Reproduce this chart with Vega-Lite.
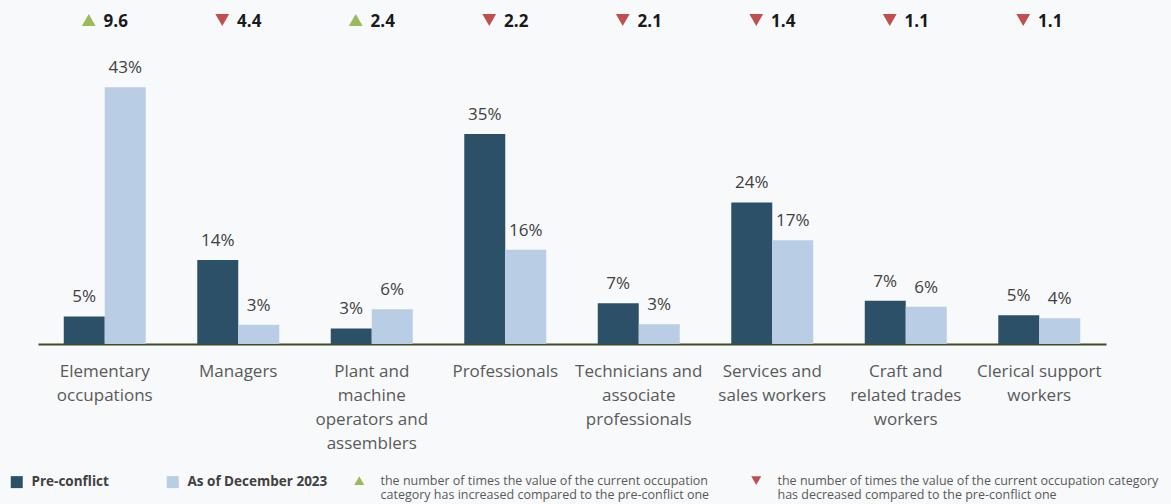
{
  "$schema": "https://vega.github.io/schema/vega-lite/v6.json",
  "width": 1068,
  "height": 344,
  "autosize": {"type": "none"},
  "padding": {"left": 38, "top": 0, "right": 65, "bottom": 160},
  "background": "#f8f9fb",
  "config": {"view": {"stroke": null}, "font": "Open Sans"},
  "datasets": {
    "shares": [
      {"occupation": "Elementary occupations", "series": "Pre-conflict", "share": 0.046},
      {"occupation": "Elementary occupations", "series": "As of December 2023", "share": 0.428},
      {"occupation": "Managers", "series": "Pre-conflict", "share": 0.140},
      {"occupation": "Managers", "series": "As of December 2023", "share": 0.032},
      {"occupation": "Plant and machine operators and assemblers", "series": "Pre-conflict", "share": 0.026},
      {"occupation": "Plant and machine operators and assemblers", "series": "As of December 2023", "share": 0.058},
      {"occupation": "Professionals", "series": "Pre-conflict", "share": 0.350},
      {"occupation": "Professionals", "series": "As of December 2023", "share": 0.157},
      {"occupation": "Technicians and associate professionals", "series": "Pre-conflict", "share": 0.068},
      {"occupation": "Technicians and associate professionals", "series": "As of December 2023", "share": 0.033},
      {"occupation": "Services and sales workers", "series": "Pre-conflict", "share": 0.236},
      {"occupation": "Services and sales workers", "series": "As of December 2023", "share": 0.173},
      {"occupation": "Craft and related trades workers", "series": "Pre-conflict", "share": 0.072},
      {"occupation": "Craft and related trades workers", "series": "As of December 2023", "share": 0.062},
      {"occupation": "Clerical support workers", "series": "Pre-conflict", "share": 0.048},
      {"occupation": "Clerical support workers", "series": "As of December 2023", "share": 0.043}
    ],
    "change": [
      {"occupation": "Elementary occupations", "direction": "increase", "ratio": "9.6"},
      {"occupation": "Managers", "direction": "decrease", "ratio": "4.4"},
      {"occupation": "Plant and machine operators and assemblers", "direction": "increase", "ratio": "2.4"},
      {"occupation": "Professionals", "direction": "decrease", "ratio": "2.2"},
      {"occupation": "Technicians and associate professionals", "direction": "decrease", "ratio": "2.1"},
      {"occupation": "Services and sales workers", "direction": "decrease", "ratio": "1.4"},
      {"occupation": "Craft and related trades workers", "direction": "decrease", "ratio": "1.1"},
      {"occupation": "Clerical support workers", "direction": "decrease", "ratio": "1.1"}
    ]
  },
  "layer": [
    {
      "data": {"name": "shares"},
      "mark": {"type": "bar"},
      "encoding": {
        "x": {
          "field": "occupation",
          "type": "nominal",
          "scale": {
            "domain": ["Elementary occupations", "Managers", "Plant and machine operators and assemblers", "Professionals", "Technicians and associate professionals", "Services and sales workers", "Craft and related trades workers", "Clerical support workers"],
            "paddingInner": 0.386,
            "paddingOuter": 0.193
          },
          "axis": {
            "title": null,
            "labelAngle": 0,
            "ticks": false,
            "domainColor": "#3d4b22",
            "domainWidth": 2,
            "labelFont": "Open Sans",
            "labelFontSize": 17,
            "labelColor": "#595959",
            "labelLineHeight": 24,
            "labelPadding": 19,
            "labelLimit": 200,
            "labelExpr": "datum.value == 'Elementary occupations' ? ['Elementary', 'occupations'] : datum.value == 'Plant and machine operators and assemblers' ? ['Plant and', 'machine', 'operators and', 'assemblers'] : datum.value == 'Technicians and associate professionals' ? ['Technicians and', 'associate', 'professionals'] : datum.value == 'Services and sales workers' ? ['Services and', 'sales workers'] : datum.value == 'Craft and related trades workers' ? ['Craft and', 'related trades', 'workers'] : datum.value == 'Clerical support workers' ? ['Clerical support', 'workers'] : datum.label"
          }
        },
        "xOffset": {"field": "series", "type": "nominal", "sort": ["Pre-conflict", "As of December 2023"], "scale": {"paddingInner": 0, "paddingOuter": 0}},
        "y": {"field": "share", "type": "quantitative", "scale": {"domain": [0, 0.5733], "nice": false, "zero": true}, "axis": null},
        "color": {
          "field": "series",
          "type": "nominal",
          "scale": {"domain": ["Pre-conflict", "As of December 2023"], "range": ["#2d5069", "#b9cde5"]},
          "legend": {
            "orient": "none",
            "legendX": -28,
            "legendY": 475,
            "direction": "horizontal",
            "title": null,
            "symbolType": "square",
            "symbolSize": 144,
            "symbolStrokeWidth": 0,
            "labelFont": "Open Sans",
            "labelFontSize": 13.5,
            "labelFontWeight": "bold",
            "labelColor": "#404040",
            "labelOffset": 8,
            "columnPadding": 57
          }
        }
      }
    },
    {
      "data": {"name": "shares"},
      "mark": {"type": "text", "baseline": "alphabetic", "dy": -14, "fontSize": 17, "font": "Open Sans", "color": "#404040"},
      "encoding": {
        "x": {"field": "occupation", "type": "nominal"},
        "xOffset": {"field": "series", "type": "nominal", "sort": ["Pre-conflict", "As of December 2023"]},
        "y": {"field": "share", "type": "quantitative"},
        "text": {"field": "share", "type": "quantitative", "format": ".0%"}
      }
    },
    {
      "data": {"name": "change"},
      "mark": {"type": "point", "filled": true, "opacity": 1, "size": 190, "xOffset": -16},
      "encoding": {
        "x": {"field": "occupation", "type": "nominal"},
        "y": {"datum": 0.54},
        "color": {
          "field": "direction",
          "type": "nominal",
          "scale": {"domain": ["increase", "decrease"], "range": ["#9bbb59", "#c0504d"]},
          "legend": {
            "orient": "none",
            "legendX": 315,
            "legendY": 474,
            "direction": "horizontal",
            "title": null,
            "symbolSize": 100,
            "labelFont": "Open Sans",
            "labelFontSize": 12.5,
            "labelColor": "#595959",
            "labelLimit": 450,
            "labelOffset": 15,
            "labelLineHeight": 15.5,
            "columnPadding": 40,
            "labelExpr": "datum.value == 'increase' ? ['the number of times the value of the current occupation', 'category has increased compared to the pre-conflict one'] : ['the number of times the value of the current occupation category', 'has decreased compared to the pre-conflict one']",
            "encode": {"symbols": {"update": {"fill": {"signal": "datum.value == 'increase' ? '#4f8a1a' : '#c8505a'"}}}}
          }
        },
        "shape": {
          "field": "direction",
          "type": "nominal",
          "scale": {"domain": ["increase", "decrease"], "range": ["triangle-up", "triangle-down"]},
          "legend": {
            "orient": "none",
            "legendX": 315,
            "legendY": 474,
            "direction": "horizontal",
            "title": null,
            "symbolSize": 100,
            "labelFont": "Open Sans",
            "labelFontSize": 12.5,
            "labelColor": "#595959",
            "labelLimit": 450,
            "labelOffset": 15,
            "labelLineHeight": 15.5,
            "columnPadding": 40,
            "labelExpr": "datum.value == 'increase' ? ['the number of times the value of the current occupation', 'category has increased compared to the pre-conflict one'] : ['the number of times the value of the current occupation category', 'has decreased compared to the pre-conflict one']",
            "encode": {"symbols": {"update": {"fill": {"signal": "datum.value == 'increase' ? '#4f8a1a' : '#c8505a'"}}}}
          }
        }
      }
    },
    {
      "data": {"name": "change"},
      "mark": {"type": "text", "baseline": "middle", "align": "center", "dx": 11, "dy": 1, "fontSize": 17, "fontWeight": "bold", "font": "Open Sans", "color": "#1a1a1a"},
      "encoding": {
        "x": {"field": "occupation", "type": "nominal"},
        "y": {"datum": 0.538},
        "text": {"field": "ratio", "type": "nominal"}
      }
    }
  ],
  "resolve": {"scale": {"color": "independent", "shape": "independent"}}
}
